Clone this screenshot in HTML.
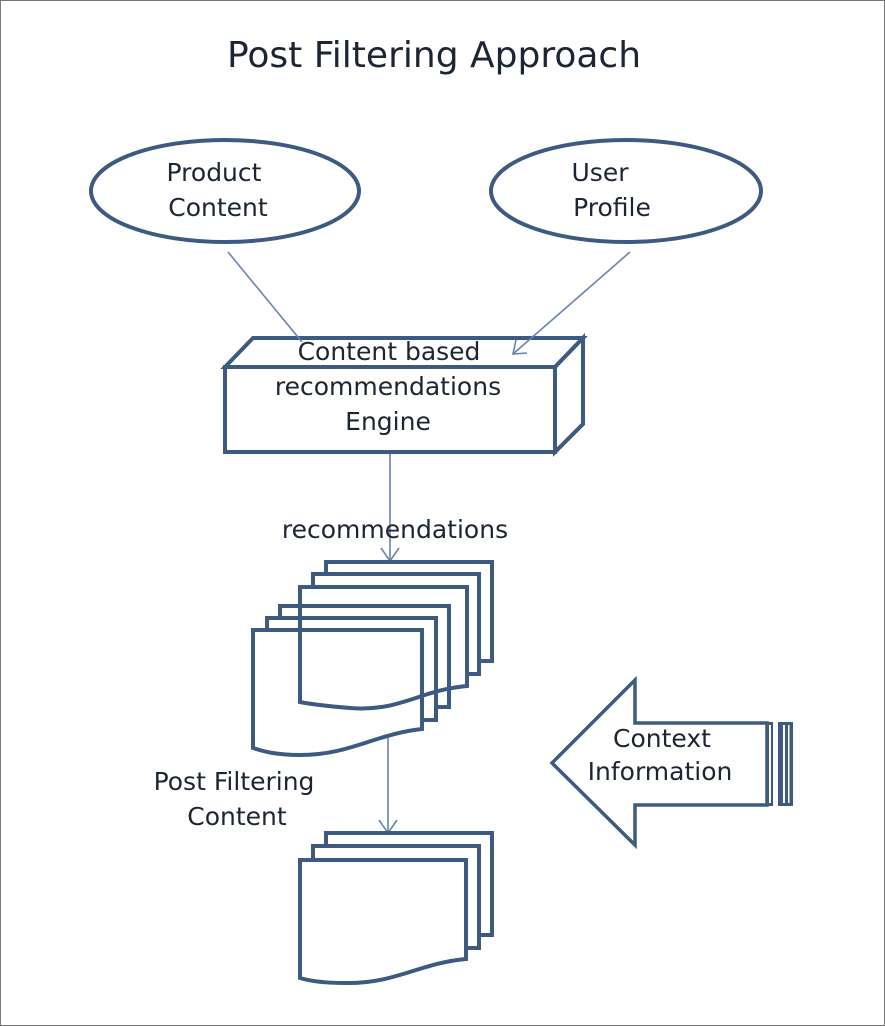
<!DOCTYPE html>
<html><head><meta charset="utf-8"><style>
html,body{margin:0;padding:0;background:#fff}
svg{display:block}
text{font-family:"DejaVu Sans","Liberation Sans",sans-serif;fill:#1c2533}
</style></head><body>
<svg width="885" height="1026" viewBox="0 0 885 1026">
<rect x="0.5" y="0.5" width="884" height="1025" fill="#fff" stroke="#777" stroke-width="1"/>
<text x="434" y="67" font-size="36" text-anchor="middle">Post Filtering  Approach</text>
<g fill="none" stroke="#3d5a80" stroke-width="4">
<ellipse cx="225" cy="191" rx="134" ry="51"/>
<ellipse cx="626" cy="191" rx="135" ry="51"/>
</g>
<g fill="#fff" stroke="#3d5a80" stroke-width="4" stroke-linejoin="miter">
<polygon points="225,367 253,338 583,338 555,367"/>
<polygon points="555,367 583,338 583,424 555,452"/>
<rect x="225" y="367" width="330" height="85"/>
</g>
<g stroke="#6a84a8" stroke-width="1.6" fill="none">
<line x1="228" y1="252" x2="302" y2="342"/>
<line x1="630" y1="252" x2="513" y2="354"/>
<polyline points="516,340 513,354 527,353"/>
<line x1="390" y1="454" x2="390" y2="560"/>
<polyline points="381,548 390,561 399,548"/>
<line x1="388" y1="735" x2="388" y2="833"/>
<polyline points="379,820 388,833 397,820"/>
</g>
<g font-size="25" text-anchor="middle">
<text x="214" y="181">Product</text><text x="218" y="216">Content</text>
<text x="600" y="181">User</text><text x="612" y="216">Profile</text>
<text x="389" y="360">Content based</text>
<text x="388" y="395">recommendations</text>
<text x="388" y="430">Engine</text>
<text x="395" y="538">recommendations</text>
<text x="234" y="790">Post Filtering</text>
<text x="237" y="825">Content</text>
<text x="662" y="747">Context</text>
<text x="660" y="780">Information</text>
</g>
<g fill="none" stroke="#3d5a80" stroke-width="4" stroke-linejoin="miter">
<polyline points="326,574 326,562 492,562 492,661 479,661"/>
<polyline points="313,587 313,574 479,574 479,674 467,674"/>
<path d="M300,587 H467 V686 C420,690 400,712 350,708 C325,706 310,704 300,702 Z"/>
<polyline points="280,618 280,606 449,606 449,707 436,707"/>
<polyline points="267,630 267,618 436,618 436,720 422,720"/>
<path d="M253,630 H422 V729 C375,734 350,755 300,755 C275,755 262,751 253,748 Z"/>
<polyline points="326,846 326,833 492,833 492,935 479,935"/>
<polyline points="313,860 313,846 479,846 479,948 466,948"/>
<path d="M300,860 H466 V959 C420,963 395,984 345,983 C322,983 310,981 300,978 Z"/>
</g>
<g fill="none" stroke="#3d5a80" stroke-width="3.5">
<polygon points="552,763 635,680 635,723 767,723 767,805 635,805 635,845"/>
</g>
<rect x="766" y="722" width="7" height="84" fill="#3d5a80"/>
<rect x="769" y="725" width="2" height="78" fill="#fff"/>
<rect x="778" y="722" width="15" height="84" fill="#3d5a80"/>
<rect x="783" y="725" width="2" height="78" fill="#fff"/>
<rect x="788" y="725" width="1.5" height="78" fill="#fff"/>
</svg>
</body></html>
